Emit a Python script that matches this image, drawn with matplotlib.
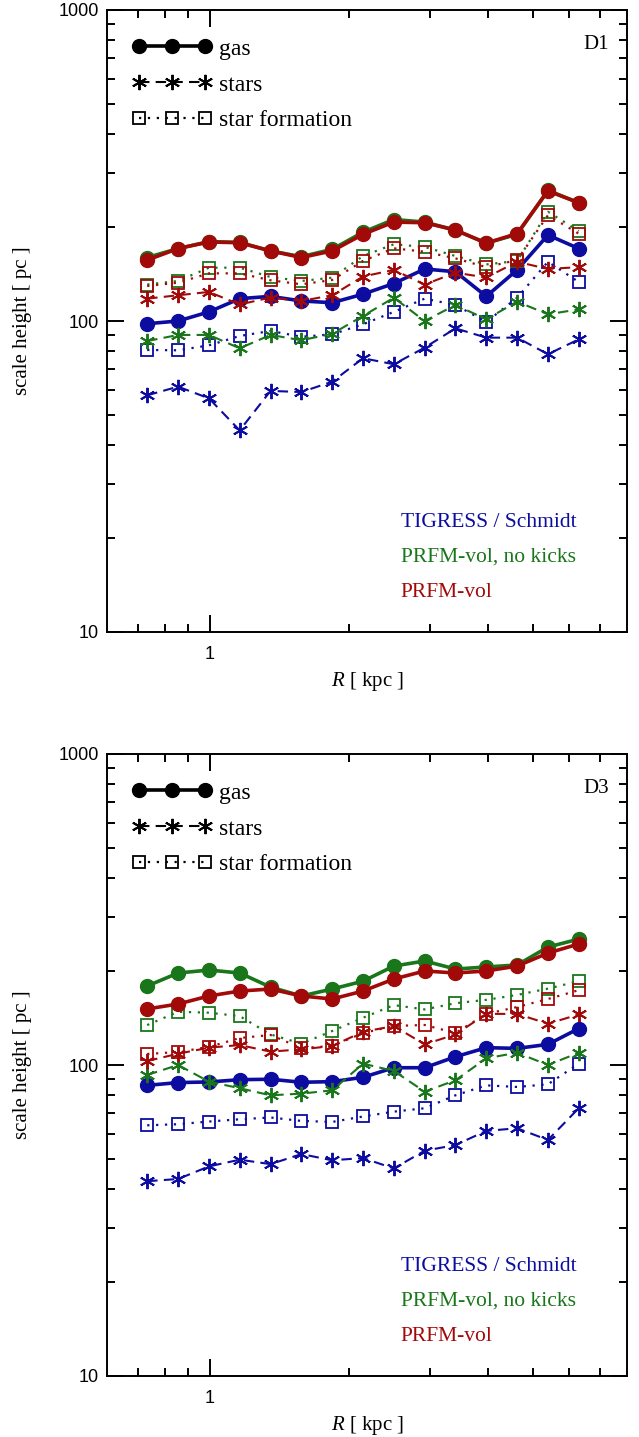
import numpy as np
import matplotlib
matplotlib.use('Agg')
import matplotlib.pyplot as plt
from matplotlib.lines import Line2D
from matplotlib.ticker import LogLocator, NullFormatter, FixedLocator, FixedFormatter

plt.rcParams['mathtext.fontset'] = 'custom'
plt.rcParams['mathtext.it'] = 'Liberation Serif:italic'
plt.rcParams['mathtext.rm'] = 'Liberation Serif'

# radios de los bins (kpc)
R = [0.733, 0.855, 0.997, 1.162, 1.355, 1.580, 1.842, 2.148,
     2.504, 2.920, 3.404, 3.969, 4.628, 5.396, 6.29]

# ---- D1 ----
d1_gas_tig = [98, 100, 107, 118, 120, 116, 114.5, 122, 132, 147, 144, 120, 146, 189, 171]
d1_gas_nok = [160, 171, 180, 179, 168, 161, 170, 193, 212, 208, 196, 178, 190, 263, 240]
d1_gas_vol = [157, 171, 179.5, 178.5, 168, 160, 168, 190, 208, 207, 196, 178, 191, 262, 240]
d1_star_tig = [57.7, 61.5, 56.4, 44.5, 59.6, 59.1, 63.8, 75.9, 72.6, 82.1, 94.7, 88.4, 88.4, 78.2, 87.3]
d1_star_nok = [86.2, 90.2, 90.2, 81.7, 90.2, 86.7, 91, 103.8, 118.8, 100, 112.6, 101.3, 115.4, 105.1, 109]
d1_star_vol = [118, 121, 124, 113, 119, 116, 121, 139, 146, 131, 143, 138, 155, 147, 149]
d1_sf_tig = [80.7, 80.5, 83.5, 89.5, 92.9, 89, 90.6, 97.6, 107, 118, 112.6, 99.3, 118.8, 155, 133.5]
d1_sf_nok = [131, 134.5, 148.4, 148.4, 138.5, 134.5, 137.8, 161.8, 176.5, 173, 161.8, 152, 156, 224.6, 194.7]
d1_sf_vol = [129.6, 132.8, 142.3, 142.3, 135.2, 131.2, 135.5, 156, 171.3, 167, 159, 149, 157, 218.8, 190.9]

# ---- D3 ----
d3_gas_tig = [86, 87.8, 88.2, 89.7, 90, 88, 88.4, 91.3, 98, 98, 106.3, 113.7, 113.1, 116.5, 131]
d3_gas_nok = [179.5, 197.6, 202, 197.6, 178, 166.7, 175.5, 186, 208, 216, 203.5, 206.6, 209.7, 239.5, 254]
d3_gas_vol = [151.4, 157.1, 166.7, 172.9, 175.5, 166.7, 163, 172.9, 189, 200.6, 197.6, 200.6, 208, 229, 245]
d3_star_tig = [42.3, 43, 47.2, 49.6, 48, 51.7, 49.4, 50.2, 46.5, 53, 55.3, 61.4, 62.6, 57.4, 72.6]
d3_star_nok = [92.9, 100, 88.4, 84.2, 79.9, 80.9, 82.9, 101, 95.7, 82.1, 89.3, 105.1, 109.5, 100, 109.5]
d3_star_vol = [103, 108.7, 113.7, 115.9, 110.4, 112.3, 115.1, 127.9, 133.4, 116.5, 125.4, 146, 146, 135.7, 145.4]
d3_sf_tig = [64, 64.5, 65.8, 66.9, 67.8, 66.1, 65.6, 68.3, 70.8, 72.6, 79.9, 86, 85, 86.7, 101]
d3_sf_nok = [134.4, 148.3, 147.3, 143.6, 125.4, 117.1, 128.6, 141.9, 155.8, 150.9, 158, 162, 168, 176, 186]
d3_sf_vol = [108.5, 110.1, 114.3, 122.1, 124.9, 113.4, 115.1, 126.7, 133.5, 134.5, 126.7, 146, 153.6, 163, 174]

modelos = ['TIGRESS / Schmidt', 'PRFM-vol, no kicks', 'PRFM-vol']
colores = ['#0c0ca0', '#1a761a', '#a20a0a']

paneles = [
    ('D1', [d1_gas_tig, d1_gas_nok, d1_gas_vol],
           [d1_star_tig, d1_star_nok, d1_star_vol],
           [d1_sf_tig, d1_sf_nok, d1_sf_vol]),
    ('D3', [d3_gas_tig, d3_gas_nok, d3_gas_vol],
           [d3_star_tig, d3_star_nok, d3_star_vol],
           [d3_sf_tig, d3_sf_nok, d3_sf_vol]),
]

serif = 'Liberation Serif'
sans = 'Liberation Sans'
ast = (6, 2, 0)  # asterisco

fig = plt.figure(figsize=(6.39, 14.37), dpi=100)
# posiciones en pixeles medidos en la figura original
ejes = [fig.add_axes([107/639, 1-632/1437, 520/639, 622/1437]),
        fig.add_axes([107/639, 1-1376/1437, 520/639, 622/1437])]

for ax, (nombre, gas, stars, sf) in zip(ejes, paneles):
    for i in range(3):
        c = colores[i]
        ax.plot(R, sf[i], ls=(0, (1, 3)), lw=1.6, color=c, marker='s', ms=9,
                mfc='none', mec=c, mew=1.3, clip_on=False)
        ax.plot(R, stars[i], ls=(0, (5, 3)), lw=1.5, color=c, marker=ast, ms=11,
                mew=1.4, clip_on=False)
        ax.plot(R, gas[i], ls='-', lw=2.6, color=c, marker='o', ms=10,
                clip_on=False)

    ax.set_xscale('log')
    ax.set_yscale('log')
    ax.set_xlim(0.6, 8.0)
    ax.set_ylim(10, 1000)

    ax.xaxis.set_major_locator(FixedLocator([1]))
    ax.xaxis.set_major_formatter(FixedFormatter(['1']))
    ax.xaxis.set_minor_locator(FixedLocator([0.7, 0.8, 0.9, 2, 3, 4, 5, 6, 7]))
    ax.xaxis.set_minor_formatter(NullFormatter())
    ax.yaxis.set_major_locator(FixedLocator([10, 100, 1000]))
    ax.yaxis.set_major_formatter(FixedFormatter(['10', '100', '1000']))
    ax.yaxis.set_minor_locator(LogLocator(base=10, subs=np.arange(2, 10)))
    ax.yaxis.set_minor_formatter(NullFormatter())

    ax.tick_params(which='both', direction='in', top=True, right=True,
                   width=1.4, labelsize=13)
    ax.tick_params(axis='y', pad=6)
    ax.tick_params(axis='x', pad=10)
    ax.tick_params(which='major', length=12)
    ax.tick_params(which='minor', length=6)
    for lab in ax.get_xticklabels() + ax.get_yticklabels():
        lab.set_fontfamily(sans)
    for s in ax.spines.values():
        s.set_linewidth(1.4)

    ax.set_xlabel(r'$R$ [ kpc ]', fontsize=15, family=serif, labelpad=5)
    ax.set_ylabel('scale height [ pc ]', fontsize=15, family=serif, labelpad=19)

    ax.text(0.965, 0.945, nombre, transform=ax.transAxes, ha='right', va='center',
            fontsize=15, family=serif)

    for i in range(3):
        ax.text(0.565, 0.176 - i*0.056, modelos[i], transform=ax.transAxes,
                color=colores[i], fontsize=15.5, family=serif, va='center')

    handles = [
        Line2D([], [], color='k', ls='-', lw=2.6, marker='o', ms=10),
        Line2D([], [], color='k', ls=(0, (5, 3)), lw=1.5, marker=ast, ms=11, mew=1.4),
        Line2D([], [], color='k', ls=(0, (1, 3)), lw=1.6, marker='s', ms=9, mfc='none', mew=1.3),
    ]
    ax.legend(handles, ['gas', 'stars', 'star formation'], loc='upper left',
              numpoints=3, handlelength=3.4, handletextpad=0.3, labelspacing=0.61,
              frameon=False, prop={'family': serif, 'size': 17},
              borderaxespad=0.0, bbox_to_anchor=(0.029, 0.97))

fig.savefig('out.png', dpi=100)
